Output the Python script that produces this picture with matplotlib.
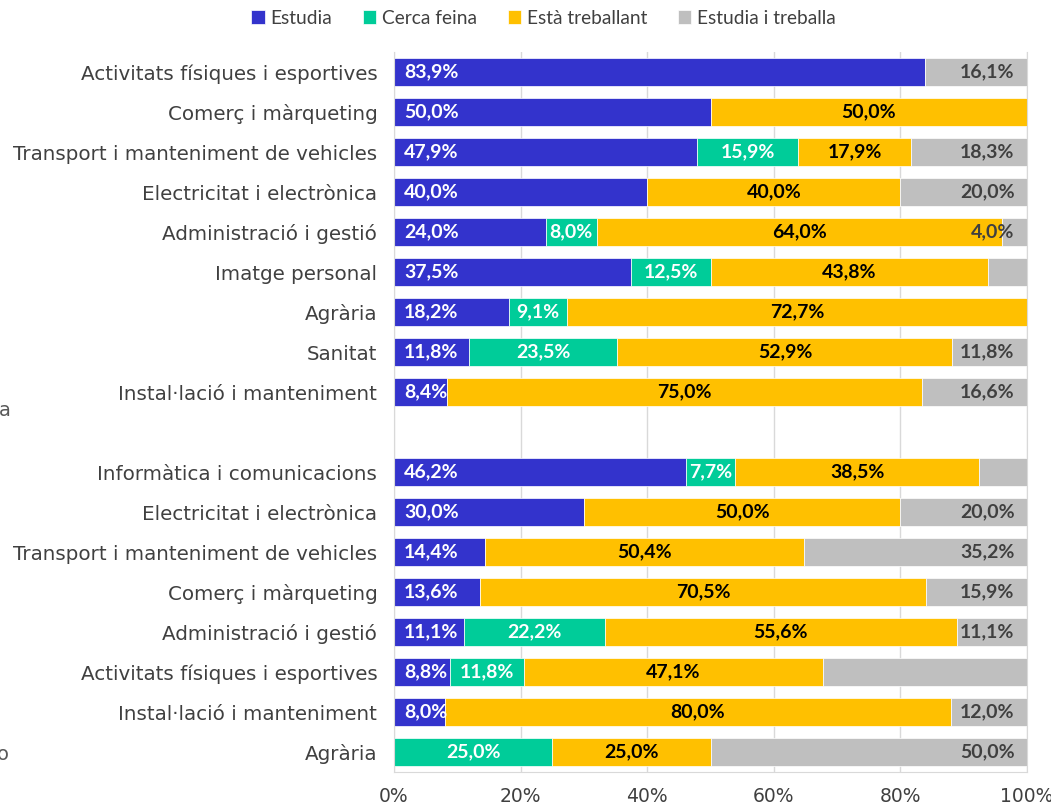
import matplotlib.pyplot as plt
import numpy as np

COLORS = ['#3333CC', '#00CC99', '#FFC000', '#BFBFBF']
SERIES = ['Estudia', 'Cerca feina', 'Està treballant', 'Estudia i treballa']

# files de dalt a baix, '' = separació entre grups
categories = [
    'Activitats físiques i esportives', 'Comerç i màrqueting',
    'Transport i manteniment de vehicles', 'Electricitat i electrònica',
    'Administració i gestió', 'Imatge personal', 'Agrària', 'Sanitat',
    'Instal·lació i manteniment', '',
    'Informàtica i comunicacions', 'Electricitat i electrònica',
    'Transport i manteniment de vehicles', 'Comerç i màrqueting',
    'Administració i gestió', 'Activitats físiques i esportives',
    'Instal·lació i manteniment', 'Agrària',
]
estudia = [83.9, 50.0, 47.9, 40.0, 24.0, 37.5, 18.2, 11.8, 8.4, 0,
           46.2, 30.0, 14.4, 13.6, 11.1, 8.8, 8.0, 0]
cerca_feina = [0, 0, 15.9, 0, 8.0, 12.5, 9.1, 23.5, 0, 0,
               7.7, 0, 0, 0, 22.2, 11.8, 0, 25.0]
treballant = [0, 50.0, 17.9, 40.0, 64.0, 43.8, 72.7, 52.9, 75.0, 0,
              38.5, 50.0, 50.4, 70.5, 55.6, 47.1, 80.0, 25.0]
estudia_treballa = [16.1, 0, 18.3, 20.0, 4.0, 6.2, 0, 11.8, 16.6, 0,
                    7.6, 20.0, 35.2, 15.9, 11.1, 32.3, 12.0, 50.0]
# segments sense etiqueta a l'original
hidden = {(5, 3), (10, 3), (15, 3)}

data = [estudia, cerca_feina, treballant, estudia_treballa]
label_colors = ['white', 'white', 'black', '#404040']

fig = plt.figure(figsize=(10.51, 8.09), dpi=100)
ax = fig.add_axes([0.3749, 0.0457, 0.6023, 0.89])

y = np.arange(len(categories))
left = np.zeros(len(categories))
for s, vals in enumerate(data):
    vals = np.array(vals)
    ax.barh(y, vals, left=left, height=0.72, color=COLORS[s], label=SERIES[s],
            edgecolor='white', linewidth=0.5, zorder=2)
    for i, v in enumerate(vals):
        if v <= 0 or categories[i] == '' or (i, s) in hidden:
            continue
        txt = f'{v:.1f}%'.replace('.', ',')
        if s == 0:
            x, ha = left[i] + 1.6, 'left'
        elif s == 3:
            x, ha = 98.0, 'right'
        else:
            x, ha = left[i] + v / 2, 'center'
        ax.text(x, i, txt, ha=ha, va='center', color=label_colors[s],
                fontsize=14, fontweight='bold', family='Lato', zorder=3)
    left += vals

ax.set_xlim(0, 100)
ax.set_ylim(len(categories) - 0.5, -0.5)
ax.set_yticks(y)
ax.set_yticklabels(categories, fontsize=14.3, color='#404040')
ax.tick_params(axis='y', length=0, pad=12)
ax.set_xticks(np.arange(0, 101, 20))
ax.set_xticklabels([f'{t}%' for t in range(0, 101, 20)], fontsize=13.5, color='#404040')
ax.tick_params(axis='x', length=0, pad=11)
ax.grid(axis='x', color='#D9D9D9', linewidth=1, zorder=0)
ax.spines['top'].set_visible(False)
for side in ['left', 'right', 'bottom']:
    ax.spines[side].set_color('#D9D9D9')

# restes de textos de grup tallats al marge esquerre
fig.text(-0.001, 1 - 410 / 809, 'a', fontsize=14, color='#595959', va='center')
fig.text(-0.003, 1 - 755 / 809, 'o', fontsize=14, color='#595959', va='center')

leg = fig.legend(loc='center', bbox_to_anchor=(0.517, 1 - 18 / 809), ncol=4,
                 frameon=False, handlelength=0.7, handleheight=0.7,
                 handletextpad=0.3, columnspacing=1.6,
                 prop={'family': 'Lato', 'size': 13.8})
for t in leg.get_texts():
    t.set_color('#404040')

fig.savefig('out.png', dpi=100)
